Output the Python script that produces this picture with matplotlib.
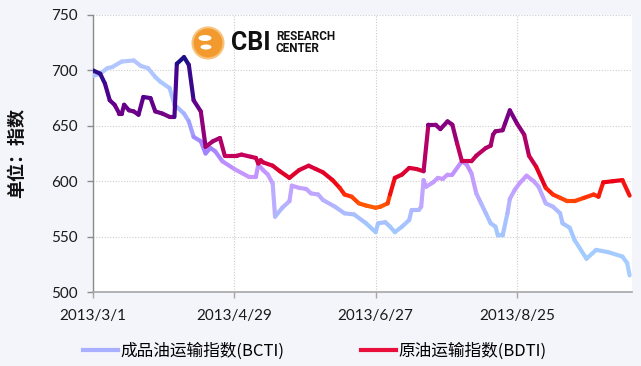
import numpy as np
import pandas as pd
import matplotlib
matplotlib.use('Agg')
import matplotlib.pyplot as plt
import matplotlib.dates as mdates
from matplotlib.collections import LineCollection
from matplotlib.colors import LinearSegmentedColormap, Normalize
from matplotlib.patches import Ellipse
from matplotlib.lines import Line2D
from matplotlib.font_manager import FontProperties

# ---------------- data ----------------
bdti_dates = ["2013-03-01", "2013-03-04", "2013-03-06", "2013-03-08", "2013-03-10", "2013-03-12",
              "2013-03-13", "2013-03-14", "2013-03-16", "2013-03-18", "2013-03-20", "2013-03-22",
              "2013-03-25", "2013-03-27", "2013-03-30", "2013-04-02", "2013-04-04", "2013-04-05",
              "2013-04-08", "2013-04-10", "2013-04-12", "2013-04-15", "2013-04-17", "2013-04-20",
              "2013-04-23", "2013-04-25", "2013-04-30", "2013-05-02", "2013-05-06", "2013-05-08",
              "2013-05-09", "2013-05-10", "2013-05-11", "2013-05-15", "2013-05-18", "2013-05-22",
              "2013-05-26", "2013-05-30", "2013-06-02", "2013-06-05", "2013-06-09", "2013-06-12",
              "2013-06-14", "2013-06-17", "2013-06-20", "2013-06-23", "2013-06-27", "2013-06-29",
              "2013-07-02", "2013-07-03", "2013-07-05", "2013-07-08", "2013-07-11", "2013-07-14",
              "2013-07-17", "2013-07-19", "2013-07-22", "2013-07-24", "2013-07-27", "2013-07-29",
              "2013-07-31", "2013-08-02", "2013-08-06", "2013-08-08", "2013-08-12", "2013-08-14",
              "2013-08-15", "2013-08-16", "2013-08-19", "2013-08-20", "2013-08-22", "2013-08-25",
              "2013-08-28", "2013-08-30", "2013-09-02", "2013-09-06", "2013-09-09", "2013-09-12",
              "2013-09-15", "2013-09-18", "2013-09-22", "2013-09-26", "2013-09-28", "2013-09-30",
              "2013-10-04", "2013-10-08", "2013-10-11"]
bdti_values = [700, 697, 688, 673, 669, 661,
               661, 669, 664, 663, 660, 676,
               675, 663, 661, 658, 658, 706,
               712, 705, 673, 663, 631, 636,
               639, 623, 623, 624, 622, 621,
               616, 619, 617, 614, 609, 603,
               610, 614, 611, 608, 601, 594,
               588, 586, 580, 578, 576, 577,
               580, 588, 603, 606, 612, 611,
               609, 651, 651, 647, 654, 651,
               634, 618, 618, 623, 630, 632,
               642, 645, 646, 652, 664, 652,
               642, 623, 613, 594, 588, 585,
               582, 582, 585, 588, 586, 599,
               600, 601, 587]

bcti_dates = ["2013-03-01", "2013-03-04", "2013-03-07", "2013-03-09", "2013-03-13", "2013-03-18",
              "2013-03-21", "2013-03-24", "2013-03-27", "2013-03-29", "2013-04-02", "2013-04-04",
              "2013-04-08", "2013-04-10", "2013-04-12", "2013-04-15", "2013-04-17", "2013-04-19",
              "2013-04-21", "2013-04-24", "2013-04-29", "2013-05-05", "2013-05-08", "2013-05-09",
              "2013-05-11", "2013-05-13", "2013-05-15", "2013-05-16", "2013-05-19", "2013-05-22",
              "2013-05-23", "2013-05-26", "2013-05-29", "2013-05-31", "2013-06-03", "2013-06-05",
              "2013-06-10", "2013-06-14", "2013-06-18", "2013-06-23", "2013-06-27", "2013-06-28",
              "2013-07-01", "2013-07-03", "2013-07-05", "2013-07-08", "2013-07-11", "2013-07-12",
              "2013-07-15", "2013-07-16", "2013-07-17", "2013-07-18", "2013-07-21", "2013-07-23",
              "2013-07-25", "2013-07-27", "2013-07-29", "2013-08-02", "2013-08-04", "2013-08-06",
              "2013-08-08", "2013-08-10", "2013-08-12", "2013-08-14", "2013-08-16", "2013-08-17",
              "2013-08-19", "2013-08-21", "2013-08-22", "2013-08-24", "2013-08-26", "2013-08-29",
              "2013-09-01", "2013-09-03", "2013-09-06", "2013-09-09", "2013-09-12", "2013-09-13",
              "2013-09-16", "2013-09-18", "2013-09-23", "2013-09-27", "2013-10-02", "2013-10-08",
              "2013-10-10", "2013-10-11"]
bcti_values = [695, 697, 702, 703, 708, 709,
               704, 702, 694, 690, 684, 669,
               661, 654, 640, 636, 625, 630,
               627, 618, 611, 604, 604, 615,
               610, 606, 598, 568, 576, 582,
               596, 594, 593, 589, 588, 583,
               577, 571, 570, 562, 554, 562,
               563, 559, 554, 559, 565, 574,
               574, 577, 601, 595, 599, 603,
               602, 606, 606, 618, 615, 607,
               589, 580, 571, 562, 559, 551,
               551, 571, 584, 592, 598, 605,
               600, 595, 580, 577, 571, 562,
               558, 547, 530, 538, 536, 532,
               526, 515]

tick_dates = ["2013-03-01", "2013-04-29", "2013-06-27", "2013-08-25"]
tick_labels = ["2013/3/1", "2013/4/29", "2013/6/27", "2013/8/25"]
y_ticks = [500, 550, 600, 650, 700, 750]
x_start, x_end = "2013-03-01", "2013-10-12"
series_names = ["成品油运输指数(BCTI)", "原油运输指数(BDTI)"]

# ---------------- colours ----------------
bdti_stops = [(570, '#ff7000'), (580, '#ff5000'), (588, '#ff2a08'), (600, '#ea0018'),
              (612, '#d8003a'), (623, '#c4005c'), (636, '#a6006e'), (650, '#88007e'),
              (664, '#6c0088'), (676, '#520090'), (700, '#26108a'), (715, '#180c84')]
bcti_stops = [(510, '#a8d0ff'), (555, '#a2c8ff'), (575, '#b0b8ff'), (590, '#c0a4ff'),
              (605, '#c898ff'), (618, '#b88cff'), (628, '#a282ff'), (640, '#a08cff'),
              (655, '#a4b0ff'), (684, '#a8c8ff'), (715, '#b8c4ff')]


def make_cmap(stops):
    lo, hi = stops[0][0], stops[-1][0]
    return (LinearSegmentedColormap.from_list(
        'c', [((v - lo) / (hi - lo), c) for v, c in stops]), Normalize(lo, hi))


CJK = ['Noto Sans CJK SC', 'DejaVu Sans']
fig = plt.figure(figsize=(6.41, 3.66), dpi=100, facecolor='#F4F4FB')
ax = fig.add_axes([93 / 641, 1 - 292 / 366, (632 - 93) / 641, (292 - 15) / 366])
ax.set_facecolor('white')


def draw(dates, values, stops, z):
    x = mdates.date2num(pd.to_datetime(dates))
    y = np.asarray(values, dtype=float)
    pts = np.column_stack([x, y])
    segs = np.stack([pts[:-1], pts[1:]], axis=1)
    cmap, norm = make_cmap(stops)
    mid = (y[:-1] + y[1:]) / 2
    lc = LineCollection(segs, colors=cmap(norm(mid)), linewidths=3.0,
                        capstyle='round', joinstyle='round', zorder=z)
    ax.add_collection(lc)


draw(bcti_dates, bcti_values, bcti_stops, 3)
draw(bdti_dates, bdti_values, bdti_stops, 4)

ax.set_xlim(pd.Timestamp(x_start), pd.Timestamp(x_end))
ax.set_ylim(500, 750)
ax.set_yticks(y_ticks)
ax.set_xticks(pd.to_datetime(tick_dates))
ax.set_xticklabels(tick_labels)

for s in ['top', 'right']:
    ax.spines[s].set_visible(False)
ax.spines['left'].set_color('#8c8c8c')
ax.spines['bottom'].set_color('#a6a6a6')
ax.spines['left'].set_linewidth(1.0)
ax.spines['bottom'].set_linewidth(1.2)
ax.tick_params(axis='y', length=4, width=1, color='#8c8c8c', pad=7,
               labelsize=11, labelcolor='#1a1a1a')
ax.tick_params(axis='x', length=4, width=1, color='#a6a6a6', pad=8,
               labelsize=11, labelcolor='#1a1a1a')
for lab in ax.get_xticklabels() + ax.get_yticklabels():
    lab.set_family('Lato')
ax.grid(True, color='#cccccc', linestyle=(0, (1, 1.5)), linewidth=0.8, zorder=0)
ax.set_axisbelow(True)

# y label
fig.text(17 / 641, 1 - 153 / 366, '单位：指数', rotation=90, fontsize=13,
         fontweight='bold', family=CJK, ha='center', va='center', color='#111111')

# legend
handles = [Line2D([], [], color='#a8b0ff', lw=3.0),
           Line2D([], [], color='#e8103a', lw=3.0)]
fig.legend(handles, series_names, loc='center', bbox_to_anchor=(315 / 641, 1 - 351 / 366),
           ncol=2, frameon=False, prop=FontProperties(family=CJK, size=12),
           handlelength=2.1, handletextpad=0.15, columnspacing=4.6,
           borderpad=0.1, borderaxespad=0.0)

# logo
fig.add_artist(Ellipse((208 / 641, 1 - 43 / 366), 31 / 641, 31 / 366,
                       facecolor='#f39a2e', edgecolor='#f7c27a', lw=1.5, zorder=5))
fig.add_artist(Ellipse((205 / 641, 1 - 38 / 366), 13 / 641, 6 / 366,
                       facecolor='white', edgecolor='none', zorder=6))
fig.add_artist(Ellipse((206 / 641, 1 - 47 / 366), 11 / 641, 5 / 366,
                       facecolor='white', edgecolor='none', zorder=6))
fig.text(231 / 641, 1 - 43 / 366, 'CBI', fontsize=18, fontweight='bold',
         family='Roboto', ha='left', va='center', color='#111111')
fig.text(276 / 641, 1 - 42.5 / 366, 'RESEARCH\nCENTER', fontsize=8.5, fontweight='bold',
         family='Roboto', ha='left', va='center', color='#111111', linespacing=0.9)

fig.savefig('out.png', dpi=100, facecolor=fig.get_facecolor())
